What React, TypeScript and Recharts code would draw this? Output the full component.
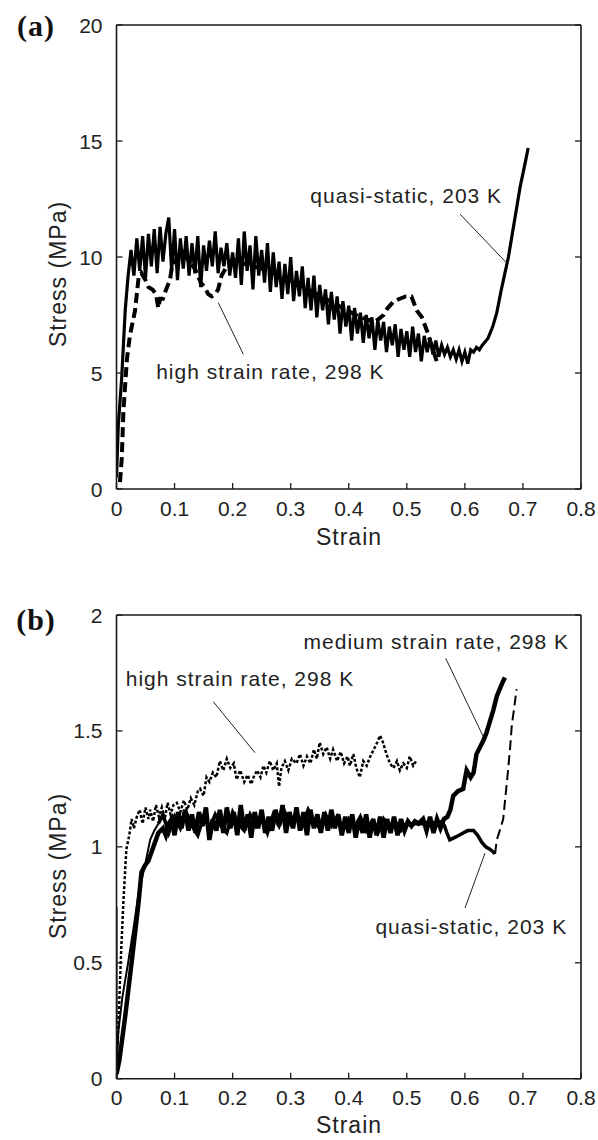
import React from 'react';
import { LineChart, Line, XAxis, YAxis, ReferenceLine, ReferenceDot } from 'recharts';

const FONT = '"Liberation Sans", Arial, Helvetica, sans-serif';

// ---------- axis ticks ----------
const strainTicks = [0, 0.1, 0.2, 0.3, 0.4, 0.5, 0.6, 0.7, 0.8];
const strainTickLabels = ['0', '0.1', '0.2', '0.3', '0.4', '0.5', '0.6', '0.7', '0.8'];
const stressTicksA = [0, 5, 10, 15, 20];
const stressTickLabelsA = ['0', '5', '10', '15', '20'];
const stressTicksB = [0, 0.5, 1, 1.5, 2];
const stressTickLabelsB = ['0', '0.5', '1', '1.5', '2'];

// ---------- panel (a) data: [strain, stress MPa] ----------
const quasiStaticA: [number, number][] = [
  [0, 0.5], [0.003, 2.7], [0.009, 4.8], [0.015, 7.7], [0.02, 9.2], [0.025, 10.3],
  [0.03, 9.2], [0.035, 10.8], [0.04, 9.4], [0.045, 10.9], [0.05, 9.1], [0.055, 11.0],
  [0.06, 9.6], [0.065, 11.2], [0.07, 9.3], [0.075, 11.3], [0.08, 9.8], [0.085, 11.0],
  [0.09, 11.7], [0.095, 9.4], [0.1, 11.2], [0.105, 9.0], [0.11, 10.8], [0.115, 9.5],
  [0.12, 10.9], [0.125, 9.2], [0.13, 10.6], [0.135, 9.3], [0.14, 10.9], [0.145, 8.7],
  [0.15, 10.5], [0.155, 9.4], [0.16, 10.7], [0.165, 9.6], [0.17, 11.1], [0.175, 9.3],
  [0.18, 10.4], [0.185, 9.6], [0.19, 10.6], [0.195, 9.2], [0.2, 10.2], [0.205, 9.1],
  [0.21, 10.8], [0.215, 8.8], [0.22, 11.1], [0.225, 9.4], [0.23, 10.5], [0.235, 8.6],
  [0.24, 10.9], [0.245, 9.2], [0.25, 10.3], [0.255, 8.9], [0.26, 10.6], [0.265, 8.5],
  [0.27, 10.2], [0.275, 8.7], [0.28, 9.8], [0.285, 8.2], [0.29, 9.7], [0.295, 8.4],
  [0.3, 10.0], [0.305, 8.1], [0.31, 9.4], [0.315, 8.3], [0.32, 9.6], [0.325, 7.8],
  [0.33, 9.1], [0.335, 7.7], [0.34, 9.2], [0.345, 7.4], [0.35, 8.8], [0.355, 7.7],
  [0.36, 8.6], [0.365, 7.1], [0.37, 8.5], [0.375, 7.3], [0.38, 8.3], [0.385, 6.7],
  [0.39, 8.1], [0.395, 7.0], [0.4, 7.9], [0.405, 6.4], [0.41, 7.8], [0.415, 6.7],
  [0.42, 7.6], [0.425, 6.3], [0.43, 7.5], [0.435, 6.5], [0.44, 7.4], [0.445, 6.0],
  [0.45, 7.3], [0.455, 6.4], [0.46, 7.2], [0.465, 5.9], [0.47, 7.0], [0.475, 6.2],
  [0.48, 7.1], [0.485, 5.7], [0.49, 6.9], [0.495, 6.0], [0.5, 6.8], [0.505, 5.7],
  [0.51, 7.0], [0.515, 5.9], [0.52, 6.7], [0.525, 5.5], [0.53, 6.6], [0.535, 5.9],
  [0.54, 6.5], [0.545, 5.8], [0.55, 6.4], [0.555, 5.7], [0.56, 6.2], [0.565, 5.8],
  [0.57, 6.1], [0.575, 5.7], [0.58, 6.0], [0.585, 5.6], [0.59, 6.0], [0.595, 5.5],
  [0.6, 5.9], [0.605, 5.4], [0.61, 6.0], [0.615, 5.9], [0.62, 6.1], [0.625, 6.0],
  [0.63, 6.2], [0.64, 6.5], [0.648, 7.0], [0.655, 7.6], [0.662, 8.5], [0.668, 9.2],
  [0.675, 10.0], [0.685, 11.5], [0.695, 13.0], [0.705, 14.2], [0.709, 14.7],
];

const highRateA: [number, number][] = [
  [0.006, 0.3], [0.009, 1.3], [0.012, 3.4], [0.018, 5.6], [0.023, 6.6], [0.032, 7.7],
  [0.038, 9.1], [0.043, 9.3], [0.05, 9.0], [0.055, 8.7], [0.062, 8.6], [0.068, 8.4],
  [0.072, 7.8], [0.075, 8.2], [0.08, 8.2], [0.084, 8.5], [0.092, 9.0], [0.095, 9.5],
  [0.105, 10.0], [0.115, 10.2], [0.125, 9.8], [0.135, 9.5], [0.145, 8.9], [0.152, 8.7],
  [0.158, 8.4], [0.164, 8.3], [0.17, 8.4], [0.175, 8.6], [0.181, 9.2], [0.19, 9.6],
  [0.2, 9.9], [0.22, 9.7], [0.25, 9.5], [0.28, 9.2], [0.3, 9.0], [0.33, 8.6],
  [0.36, 8.2], [0.39, 7.8], [0.42, 7.4], [0.445, 7.2], [0.46, 7.5], [0.467, 7.8],
  [0.478, 8.1], [0.488, 8.2], [0.498, 8.3], [0.508, 8.3], [0.517, 7.7], [0.526, 7.4],
  [0.535, 6.8], [0.545, 6.0], [0.553, 5.4],
];

// ---------- panel (b) data ----------
const mediumRateB: [number, number][] = [
  [0, 0.02], [0.005, 0.08], [0.015, 0.27], [0.025, 0.48], [0.032, 0.63], [0.038, 0.76],
  [0.043, 0.89], [0.049, 0.92], [0.055, 0.94], [0.062, 0.99], [0.072, 1.06], [0.08, 1.08],
  [0.085, 1.05], [0.09, 1.1], [0.095, 1.12],
  [0.1, 1.05], [0.106, 1.15], [0.112, 1.08], [0.118, 1.16], [0.124, 1.07], [0.13, 1.14],
  [0.136, 1.06], [0.142, 1.15], [0.148, 1.09], [0.154, 1.17], [0.16, 1.03], [0.166, 1.12],
  [0.172, 1.07], [0.178, 1.16], [0.184, 1.06], [0.19, 1.17], [0.196, 1.08], [0.202, 1.15],
  [0.208, 1.05], [0.214, 1.18], [0.22, 1.07], [0.226, 1.14], [0.232, 1.04], [0.238, 1.15],
  [0.244, 1.08], [0.25, 1.16], [0.256, 1.06], [0.262, 1.13], [0.268, 1.07], [0.274, 1.16],
  [0.28, 1.09], [0.286, 1.18], [0.292, 1.06], [0.298, 1.15], [0.304, 1.08], [0.31, 1.17],
  [0.316, 1.07], [0.322, 1.15], [0.328, 1.05], [0.334, 1.16], [0.34, 1.08], [0.346, 1.14],
  [0.352, 1.06], [0.358, 1.15], [0.364, 1.07], [0.37, 1.16], [0.376, 1.08], [0.382, 1.14],
  [0.388, 1.05], [0.394, 1.13], [0.4, 1.06], [0.406, 1.14], [0.412, 1.04], [0.418, 1.12],
  [0.424, 1.06], [0.43, 1.14], [0.436, 1.04], [0.442, 1.12], [0.448, 1.05], [0.454, 1.13],
  [0.46, 1.04], [0.466, 1.12], [0.472, 1.06], [0.478, 1.13], [0.484, 1.05], [0.49, 1.12],
  [0.496, 1.07], [0.502, 1.11], [0.508, 1.09], [0.514, 1.11], [0.52, 1.1], [0.528, 1.12],
  [0.534, 1.07], [0.54, 1.13], [0.546, 1.06], [0.552, 1.12], [0.558, 1.08], [0.564, 1.12],
  [0.57, 1.13], [0.575, 1.16], [0.58, 1.22], [0.588, 1.24],
  [0.597, 1.25], [0.603, 1.33], [0.61, 1.3], [0.615, 1.32], [0.62, 1.4], [0.626, 1.43],
  [0.632, 1.46], [0.637, 1.49], [0.643, 1.54], [0.649, 1.59], [0.655, 1.65], [0.66, 1.68],
  [0.665, 1.71], [0.669, 1.73],
];

const quasiStaticBLoad: [number, number][] = [
  [0, 0], [0.003, 0.2], [0.01, 0.35], [0.02, 0.5], [0.03, 0.66], [0.038, 0.8],
  [0.049, 0.92], [0.058, 1.03], [0.065, 1.07], [0.072, 1.1],
];

const quasiStaticBPlateau: [number, number][] = [
  [0.072, 1.1], [0.08, 1.14], [0.09, 1.06], [0.1, 1.13], [0.11, 1.08], [0.12, 1.15],
  [0.13, 1.09], [0.14, 1.05], [0.15, 1.13], [0.16, 1.08], [0.17, 1.14], [0.18, 1.09],
  [0.19, 1.06], [0.2, 1.15], [0.21, 1.1], [0.22, 1.07], [0.23, 1.14], [0.24, 1.09],
  [0.25, 1.13], [0.26, 1.06], [0.27, 1.14], [0.28, 1.09], [0.29, 1.15], [0.3, 1.1],
  [0.31, 1.14], [0.32, 1.09], [0.33, 1.16], [0.34, 1.11], [0.35, 1.08], [0.36, 1.14],
  [0.37, 1.09], [0.38, 1.13], [0.39, 1.07], [0.4, 1.12], [0.41, 1.08], [0.42, 1.13],
  [0.43, 1.07], [0.44, 1.11], [0.45, 1.06], [0.46, 1.12], [0.47, 1.08], [0.48, 1.11],
  [0.49, 1.07], [0.5, 1.1], [0.51, 1.1], [0.52, 1.1], [0.53, 1.1], [0.54, 1.11],
  [0.55, 1.1], [0.56, 1.11], [0.565, 1.09], [0.569, 1.06], [0.574, 1.03], [0.582, 1.04],
  [0.59, 1.05], [0.597, 1.06], [0.605, 1.07], [0.615, 1.07], [0.622, 1.05], [0.629, 1.02],
  [0.636, 1.0], [0.643, 0.99], [0.648, 0.98], [0.652, 0.97],
];

const quasiStaticBRise: [number, number][] = [
  [0.652, 0.97], [0.655, 1.03], [0.66, 1.07], [0.666, 1.12], [0.67, 1.22], [0.674, 1.32],
  [0.678, 1.43], [0.681, 1.53], [0.685, 1.6], [0.689, 1.68],
];

const highRateBStart: [number, number][] = [[0, 0], [0, 0.74]];

const highRateB: [number, number][] = [
  [0.002, 0.15], [0.005, 0.35], [0.008, 0.55], [0.012, 0.77], [0.017, 0.99], [0.022, 1.05],
  [0.026, 1.12], [0.03, 1.08], [0.035, 1.13], [0.04, 1.16], [0.045, 1.1], [0.05, 1.17],
  [0.055, 1.12], [0.058, 1.16], [0.063, 1.11], [0.068, 1.18], [0.073, 1.13], [0.078, 1.17],
  [0.083, 1.12], [0.088, 1.19], [0.093, 1.14], [0.098, 1.18], [0.104, 1.19], [0.11, 1.15],
  [0.116, 1.2], [0.122, 1.16], [0.128, 1.21], [0.134, 1.18], [0.14, 1.24], [0.144, 1.25],
  [0.15, 1.22], [0.155, 1.3], [0.16, 1.28], [0.166, 1.32], [0.172, 1.3], [0.178, 1.37],
  [0.184, 1.33], [0.19, 1.38], [0.196, 1.34], [0.202, 1.36], [0.207, 1.29], [0.213, 1.33],
  [0.22, 1.28], [0.226, 1.31], [0.232, 1.27], [0.236, 1.3], [0.242, 1.33], [0.248, 1.3],
  [0.253, 1.35], [0.258, 1.32], [0.264, 1.37], [0.27, 1.33], [0.276, 1.36], [0.28, 1.26],
  [0.284, 1.34], [0.29, 1.37], [0.296, 1.33], [0.302, 1.38], [0.31, 1.36], [0.316, 1.4],
  [0.322, 1.35], [0.328, 1.39], [0.334, 1.36], [0.34, 1.42], [0.345, 1.38], [0.35, 1.45],
  [0.356, 1.4], [0.362, 1.43], [0.368, 1.38], [0.373, 1.42], [0.38, 1.37], [0.386, 1.41],
  [0.392, 1.36], [0.398, 1.39], [0.402, 1.35], [0.408, 1.4], [0.413, 1.34], [0.419, 1.3],
  [0.425, 1.37], [0.431, 1.35], [0.437, 1.39], [0.443, 1.42], [0.449, 1.45], [0.454, 1.48],
  [0.459, 1.45], [0.465, 1.4], [0.471, 1.36], [0.477, 1.34], [0.483, 1.37], [0.488, 1.33],
  [0.494, 1.36], [0.5, 1.34], [0.505, 1.39], [0.511, 1.35], [0.516, 1.37],
];

// ---------- annotations (data coordinates) ----------
type Ann = { text: string; x: number; y: number; from: [number, number]; to: [number, number] };
const annotationsA: Ann[] = [
  { text: 'quasi-static, 203 K', x: 0.499, y: 12.63, from: [0.5916, 11.85], to: [0.672, 9.74] },
  { text: 'high strain rate, 298 K', x: 0.265, y: 5.06, from: [0.1753, 8.03], to: [0.2184, 5.81] },
];
const annotationsB: Ann[] = [
  { text: 'high strain rate, 298 K', x: 0.2127, y: 1.728, from: [0.1667, 1.626], to: [0.2385, 1.406] },
  { text: 'medium strain rate, 298 K', x: 0.5508, y: 1.885, from: [0.567, 1.813], to: [0.6318, 1.475] },
  { text: 'quasi-static, 203 K', x: 0.611, y: 0.655, from: [0.6002, 0.736], to: [0.6347, 0.973] },
];

const toRows = (pairs: [number, number][]) => pairs.map(([x, y]) => ({ x, y }));

const labelFor = (ticks: number[], labels: string[], v: number) => {
  let best = 0;
  ticks.forEach((t, i) => {
    if (Math.abs(t - v) < Math.abs(ticks[best] - v)) best = i;
  });
  return labels[best];
};

const AXIS = '#1a1a1a';
const TXT = '#222';
const TICK_LEN = 6;

const leftTick = (ticks: number[], labels: string[]) => (props: any) => {
  const { x, y, payload } = props;
  return (
    <g>
      <line x1={x} y1={y} x2={x + TICK_LEN} y2={y} stroke={AXIS} strokeWidth={1.3} />
      <text x={x - 14} y={y} textAnchor="end" dominantBaseline="central" fontFamily={FONT} fontSize={21} fill={TXT}>
        {labelFor(ticks, labels, payload.value)}
      </text>
    </g>
  );
};
const bottomTick = (ticks: number[], labels: string[]) => (props: any) => {
  const { x, y, payload } = props;
  return (
    <g>
      <line x1={x} y1={y} x2={x} y2={y - TICK_LEN} stroke={AXIS} strokeWidth={1.3} />
      <text x={x} y={y + 19} textAnchor="middle" dominantBaseline="central" fontFamily={FONT} fontSize={21} fill={TXT}>
        {labelFor(ticks, labels, payload.value)}
      </text>
    </g>
  );
};
const topTick = (props: any) => {
  const { x, y } = props;
  return <line x1={x} y1={y} x2={x} y2={y + TICK_LEN} stroke={AXIS} strokeWidth={1.3} />;
};
const rightTick = (props: any) => {
  const { x, y } = props;
  return <line x1={x} y1={y} x2={x - TICK_LEN} y2={y} stroke={AXIS} strokeWidth={1.3} />;
};

const annLabel = (text: string) => (props: any) => {
  const vb = props.viewBox || {};
  const cx = (vb.x || 0) + (vb.width || 0) / 2;
  const cy = (vb.y || 0) + (vb.height || 0) / 2;
  return (
    <text x={cx} y={cy} textAnchor="middle" dominantBaseline="central" fontFamily={FONT} fontSize={21} fill={TXT} style={{ letterSpacing: 1 }}>
      {text}
    </text>
  );
};

const renderAnnotations = (anns: Ann[], prefix: string) => {
  const out: React.ReactNode[] = [];
  anns.forEach((a, i) => {
    out.push(
      <ReferenceLine
        key={`${prefix}-l${i}`}
        segment={[{ x: a.from[0], y: a.from[1] }, { x: a.to[0], y: a.to[1] }]}
        stroke="#222"
        strokeWidth={1}
        ifOverflow="visible"
      />
    );
    out.push(
      <ReferenceDot
        key={`${prefix}-d${i}`}
        x={a.x}
        y={a.y}
        r={0}
        fill="none"
        stroke="none"
        ifOverflow="visible"
        label={{ content: annLabel(a.text) }}
      />
    );
  });
  return out;
};

const axesFor = (yTicks: number[], yLabels: string[], yDomain: [number, number]) => [
  <XAxis
    key="xb"
    xAxisId={0}
    type="number"
    dataKey="x"
    domain={[0, 0.8]}
    ticks={strainTicks}
    interval={0}
    allowDataOverflow
    height={40}
    tickSize={0}
    tickMargin={0}
    tickLine={false}
    axisLine={{ stroke: AXIS, strokeWidth: 1.6 }}
    tick={bottomTick(strainTicks, strainTickLabels)}
  />,
  <XAxis
    key="xt"
    xAxisId="top"
    orientation="top"
    type="number"
    domain={[0, 0.8]}
    ticks={strainTicks}
    interval={0}
    allowDataOverflow
    height={1}
    tickSize={0}
    tickMargin={0}
    tickLine={false}
    axisLine={{ stroke: AXIS, strokeWidth: 1.6 }}
    tick={topTick}
  />,
  <YAxis
    key="yl"
    yAxisId={0}
    type="number"
    domain={yDomain}
    ticks={yTicks}
    interval={0}
    allowDataOverflow
    width={100}
    tickSize={0}
    tickMargin={0}
    tickLine={false}
    axisLine={{ stroke: AXIS, strokeWidth: 1.6 }}
    tick={leftTick(yTicks, yLabels)}
  />,
  <YAxis
    key="yr"
    yAxisId="right"
    orientation="right"
    type="number"
    domain={yDomain}
    ticks={yTicks}
    interval={0}
    allowDataOverflow
    width={1}
    tickSize={0}
    tickMargin={0}
    tickLine={false}
    axisLine={{ stroke: AXIS, strokeWidth: 1.6 }}
    tick={rightTick}
  />,
];

const textBase: React.CSSProperties = {
  position: 'absolute',
  fontFamily: FONT,
  color: TXT,
  whiteSpace: 'nowrap',
  lineHeight: 1,
  transform: 'translate(-50%, -50%)',
};

export default function App() {
  return (
    <div style={{ position: 'absolute', left: 0, top: 0, width: 598, height: 1140, background: '#fff' }}>
      {/* Panel (a) */}
      <div style={{ position: 'absolute', left: 0, top: 0 }}>
        <LineChart width={598} height={560} margin={{ top: 24, right: 16, left: 16.5, bottom: 31 }}>
          {axesFor(stressTicksA, stressTickLabelsA, [0, 20])}
          <Line data={toRows(highRateA)} dataKey="y" type="linear" dot={false} stroke="#000" strokeWidth={4} strokeDasharray="10 5" isAnimationActive={false} />
          <Line data={toRows(quasiStaticA)} dataKey="y" type="linear" dot={false} stroke="#000" strokeWidth={3.2} isAnimationActive={false} />
          {renderAnnotations(annotationsA, 'a')}
        </LineChart>
      </div>
      {/* Panel (b) */}
      <div style={{ position: 'absolute', left: 0, top: 560 }}>
        <LineChart width={598} height={580} margin={{ top: 54, right: 16, left: 16.5, bottom: 21.3 }}>
          {axesFor(stressTicksB, stressTickLabelsB, [0, 2])}
          <Line data={toRows(highRateBStart)} dataKey="y" type="linear" dot={false} stroke="#000" strokeWidth={2} isAnimationActive={false} />
          <Line data={toRows(highRateB)} dataKey="y" type="linear" dot={false} stroke="#000" strokeWidth={2.5} strokeDasharray="3 2" isAnimationActive={false} />
          <Line data={toRows(quasiStaticBLoad)} dataKey="y" type="linear" dot={false} stroke="#000" strokeWidth={2} isAnimationActive={false} />
          <Line data={toRows(quasiStaticBPlateau)} dataKey="y" type="linear" dot={false} stroke="#000" strokeWidth={3.5} isAnimationActive={false} />
          <Line data={toRows(quasiStaticBRise)} dataKey="y" type="linear" dot={false} stroke="#000" strokeWidth={2} strokeDasharray="10 5" isAnimationActive={false} />
          <Line data={toRows(mediumRateB)} dataKey="y" type="linear" dot={false} stroke="#000" strokeWidth={4.5} isAnimationActive={false} />
          {renderAnnotations(annotationsB, 'b')}
        </LineChart>
      </div>

      {/* panel letters */}
      <div style={{ ...textBase, left: 36, top: 26, fontFamily: '"Liberation Serif", "Times New Roman", serif', fontWeight: 'bold', fontSize: 30, letterSpacing: 1, color: '#111' }}>(a)</div>
      <div style={{ ...textBase, left: 36, top: 620, fontFamily: '"Liberation Serif", "Times New Roman", serif', fontWeight: 'bold', fontSize: 30, letterSpacing: 1, color: '#111' }}>(b)</div>

      {/* axis titles */}
      <div style={{ ...textBase, left: 349, top: 537, fontSize: 23, letterSpacing: 1 }}>Strain</div>
      <div style={{ ...textBase, left: 349, top: 1125, fontSize: 23, letterSpacing: 1 }}>Strain</div>
      <div style={{ ...textBase, left: 58, top: 274, fontSize: 23, letterSpacing: 1, transform: 'translate(-50%, -50%) rotate(-90deg)' }}>Stress (MPa)</div>
      <div style={{ ...textBase, left: 58, top: 866, fontSize: 23, letterSpacing: 1, transform: 'translate(-50%, -50%) rotate(-90deg)' }}>Stress (MPa)</div>
    </div>
  );
}
